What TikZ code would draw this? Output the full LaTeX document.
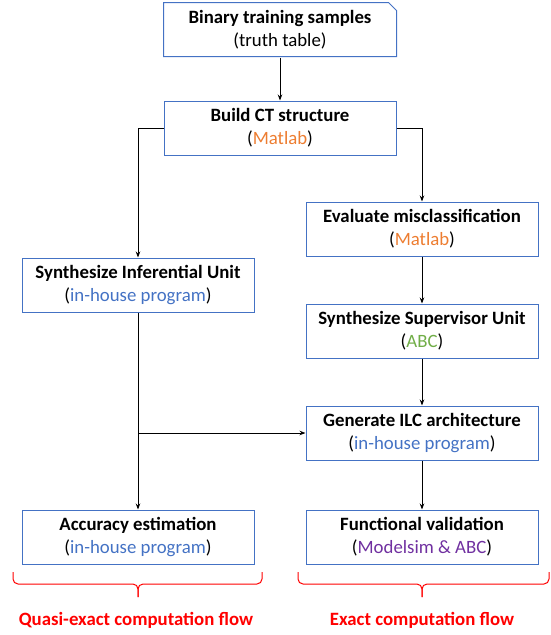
\documentclass[tikz,border=0pt]{standalone}
\usepackage{fontspec}
\setmainfont{Carlito}
\usetikzlibrary{arrows.meta}
\definecolor{boxblue}{HTML}{4472C4}
\definecolor{toolorange}{HTML}{ED7D31}
\definecolor{toolblue}{HTML}{4472C4}
\definecolor{toolgreen}{HTML}{70AD47}
\definecolor{toolpurple}{HTML}{7030A0}
\tikzset{
  flowbox/.style={draw=boxblue,line width=1pt,minimum width=232pt,minimum height=54pt,
    align=center,inner sep=2pt,font=\fontsize{18.8}{23}\selectfont},
  arr/.style={-{Stealth[length=6pt,width=4.5pt]},line width=0.9pt},
  flowlabel/.style={text=red,font=\bfseries\fontsize{18.8}{22}\selectfont},
  flowbrace/.style={draw=red,line width=1pt,rounded corners=5pt}
}
\begin{document}
\begin{tikzpicture}[x=1pt,y=-1pt]
        \useasboundingbox (0,0) rectangle (551,635);
        \node[flowbox,draw=none] (samples) at (280,30) {\textbf{Binary training samples}\\(truth table)};
        \draw [boxblue,line width=1pt] ([yshift=1pt]samples.south west) -- (samples.north west) -- ([xshift=-8pt]samples.north east)
              -- ([yshift=-8pt]samples.north east) -- ([yshift=1pt]samples.south east) -- cycle;
        \node[flowbox] (ct) at (280,128) {\textbf{Build CT structure}\\(\textcolor{toolorange}{Matlab})};
        \node[flowbox] (infer) at (138,285) {\textbf{Synthesize Inferential Unit}\\(\textcolor{toolblue}{in-house program})};
        \node[flowbox] (miscl) at (422,229) {\textbf{Evaluate misclassification}\\(\textcolor{toolorange}{Matlab})};
        \node[flowbox] (superv) at (422,331) {\textbf{Synthesize Supervisor Unit}\\(\textcolor{toolgreen}{ABC})};
        \node[flowbox] (ilc) at (422,433) {\textbf{Generate ILC architecture}\\(\textcolor{toolblue}{in-house program})};
        \node[flowbox] (acc) at (138,537) {\textbf{Accuracy estimation}\\(\textcolor{toolblue}{in-house program})};
        \node[flowbox] (func) at (422,537) {\textbf{Functional validation}\\(\textcolor{toolpurple}{Modelsim \& ABC})};
        \coordinate (split) at (infer.south |- ilc.west);
        \draw [arr] (samples) -- (ct);
        \draw [arr] (ct.west) -| (infer.north);
        \draw [arr] (ct.east) -| (miscl.north);
        \draw [arr] (miscl) -- (superv);
        \draw [arr] (superv) -- (ilc);
        \draw [arr] (infer) -- (acc);
        \draw [arr] (split) -- (ilc.west);
        \draw [arr] (ilc) -- (func);
        \draw [flowbrace] (13,572) -- (13,584) -- (138,584) -- (138,597);
        \draw [flowbrace] (262,572) -- (262,584) -- (138,584) -- (138,597);
        \draw [flowbrace] (298,572) -- (298,584) -- (422,584) -- (422,597);
        \draw [flowbrace] (549,572) -- (549,584) -- (422,584) -- (422,597);
        \node[flowlabel] (quasi) at (136,620) {Quasi-exact computation flow};
        \node[flowlabel] (exact) at (422,620) {Exact computation flow};
    \end{tikzpicture}
\end{document}
